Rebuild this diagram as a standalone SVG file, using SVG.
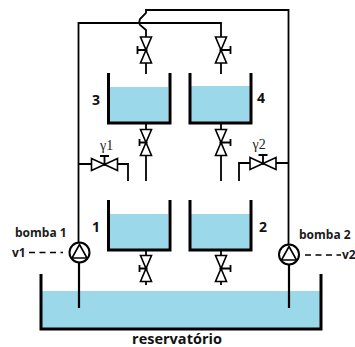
<svg xmlns="http://www.w3.org/2000/svg" width="355" height="347" viewBox="0 0 355 347">
<style>
.p{fill:none;stroke:#000;stroke-width:1.8}
.w{fill:#9bd9ea}
.t{fill:none;stroke:#000;stroke-width:3}
.v{fill:#fff;stroke:#000;stroke-width:1.600;stroke-linejoin:miter}
.l{font-family:"Open Sans","Noto Sans",sans-serif;font-weight:700;fill:#1a1a1a;font-size:12px}
.n{font-family:"Open Sans","Noto Sans",sans-serif;font-weight:700;fill:#111;font-size:14px}
.g{font-family:"Liberation Serif",serif;fill:#222;font-size:14px}
</style>
<defs>
<g id="vv"><path class="v" d="M-5.500-13H5.500L-5.500 13H5.500Z"/><circle r="1.600"/></g>
<g id="vh"><path class="v" d="M-13-6V6L13-6V6Z"/><circle r="1.600"/></g>
</defs>
<g id="tank3"><rect class="w" x="110" y="87" width="58" height="35"/><path class="t" d="M108.500 73V123H170V73"/><text class="n" x="92" y="105">3</text></g>
<g id="tank4"><rect class="w" x="191" y="86" width="59" height="36"/><path class="t" d="M190 73V123H251V73"/><text class="n" x="257" y="103">4</text></g>
<g id="tank1"><rect class="w" x="110" y="214" width="58" height="35"/><path class="t" d="M108.500 200V250H170V200"/><text class="n" x="92" y="232">1</text></g>
<g id="tank2"><rect class="w" x="191" y="214" width="59" height="35"/><path class="t" d="M190 200V250H251V200"/><text class="n" x="259" y="232">2</text></g>
<g id="reservoir"><rect class="w" x="42" y="291" width="278" height="37"/><path class="t" d="M41 274V329H321V274"/><text class="n" x="177" y="344" text-anchor="middle" style="font-size:14.500px">reservatório</text></g>
<g id="connectors">
<path class="p" d="M78.500 242V23H221V37M146 74V30L140 25Q138.500 23 140 19L146 13V10H288.500V244"/>
<path class="p" d="M146 123V181M221 123V181M146 250V285M221 250V285"/>
<path class="p" d="M78.500 164H128V181M288.500 163H239V181"/>
<path class="p" d="M221 63V74"/>
<path fill="none" stroke="#000" stroke-width="2.200" d="M79 263V308M289 265V308"/>
<path fill="none" stroke="#000" stroke-width="1.500" stroke-dasharray="6 4.500" d="M29 252.500H63M305 255H341"/>
</g>
<g id="valve-top-3"><path class="p" d="M146 50H137.500M137.500 46V54"/><use href="#vv" x="146" y="50"/></g>
<g id="valve-top-4"><path class="p" d="M221 50H230.500M230.500 46V54"/><use href="#vv" x="221" y="50"/></g>
<g id="valve-3"><path class="p" d="M146 142.500H139.500M139.500 139V146"/><use href="#vv" x="146" y="142.500"/></g>
<g id="valve-4"><path class="p" d="M221 142.500H230.500M230.500 139V146"/><use href="#vv" x="221" y="142.500"/></g>
<g id="valve-1"><path class="p" d="M146 268.500H139.500M139.500 265V272"/><use href="#vv" x="146" y="268.500"/></g>
<g id="valve-2"><path class="p" d="M221 268.500H230.500M230.500 265V272"/><use href="#vv" x="221" y="268.500"/></g>
<g id="gamma1"><path class="p" d="M104.500 164V156M100 156H109"/><use href="#vh" x="104.500" y="164.500"/><text class="g" x="100" y="150">γ1</text></g>
<g id="gamma2"><path class="p" d="M263 163V155M258.500 155H267.500"/><use href="#vh" x="263" y="163.500"/><text class="g" x="252.500" y="149">γ2</text></g>
<g id="pump1"><circle class="v" style="stroke-width:2" cx="79.500" cy="252.500" r="10"/><path class="v" d="M79.500 244.500L87 258H72Z"/><text class="l" x="15" y="237">bomba 1</text><text class="l" x="12" y="257">v1</text></g>
<g id="pump2"><circle class="v" style="stroke-width:2" cx="289" cy="254.500" r="10"/><path class="v" d="M289 246.500L296.500 260H281.500Z"/><text class="l" x="299" y="239">bomba 2</text><text class="l" x="342" y="259">v2</text></g>
</svg>
